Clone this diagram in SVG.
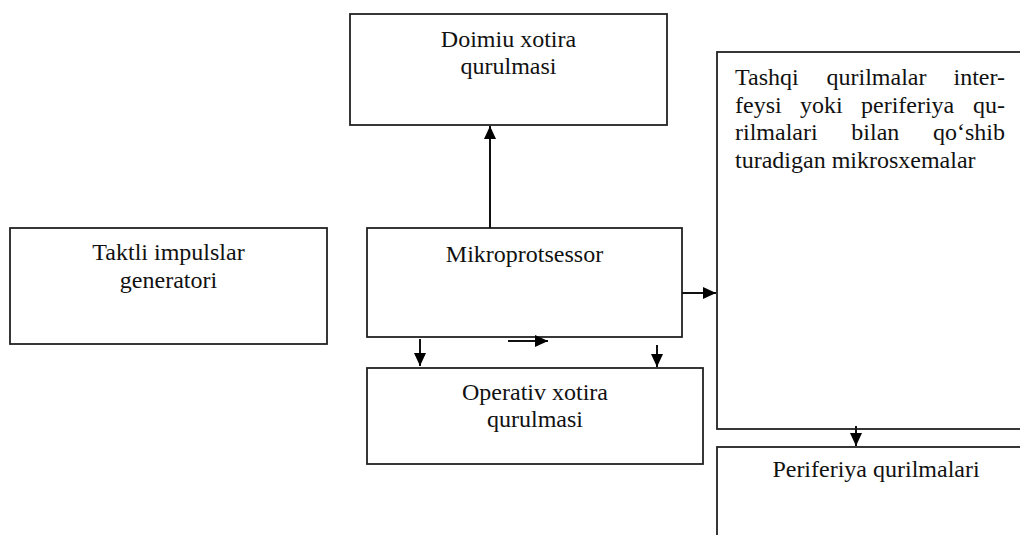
<svg xmlns="http://www.w3.org/2000/svg" width="1020" height="535" viewBox="0 0 1020 535">
<style>
.box{fill:#fff;stroke:#222;stroke-width:1.8}
.t{font-family:"Liberation Serif","Times New Roman",serif;font-size:24px;fill:#111}
.c{text-anchor:middle}
.e{text-anchor:end}
.ln{stroke:#111;stroke-width:2;fill:none;marker-end:url(#ah)}
</style>
<defs>
<marker id="ah" markerUnits="userSpaceOnUse" markerWidth="14" markerHeight="12" refX="13" refY="6" orient="auto">
<path d="M0,0 L13,6 L0,12 Z" fill="#000"/>
</marker>
</defs>
<rect width="1020" height="535" fill="#fff"/>
<g id="doimiu">
<rect class="box" x="350" y="14" width="317" height="111"/>
<text class="t c" x="508.5" y="47">Doimiu xotira</text>
<text class="t c" x="508.5" y="74">qurulmasi</text>
</g>
<g id="tashqi">
<rect class="box" x="717" y="52" width="320" height="377"/>
<text class="t" x="735" y="85">Tashqi</text>
<text class="t" x="826.5" y="85">qurilmalar</text>
<text class="t e" x="1005" y="85">inter-</text>
<text class="t" x="735" y="112.7">feysi</text>
<text class="t" x="800" y="112.7">yoki</text>
<text class="t" x="861" y="112.7">periferiya</text>
<text class="t e" x="1005" y="112.7">qu-</text>
<text class="t" x="735" y="140.4">rilmalari</text>
<text class="t" x="851.3" y="140.4">bilan</text>
<text class="t e" x="1005" y="140.4">qo‘shib</text>
<text class="t" x="735" y="168">turadigan mikrosxemalar</text>
</g>
<g id="taktli">
<rect class="box" x="10" y="228" width="317" height="116"/>
<text class="t c" x="168.5" y="260">Taktli impulslar</text>
<text class="t c" x="168.5" y="288">generatori</text>
</g>
<g id="mikro">
<rect class="box" x="367" y="228" width="315" height="109"/>
<text class="t c" x="524.5" y="262">Mikroprotsessor</text>
</g>
<g id="operativ">
<rect class="box" x="367" y="368" width="336" height="96"/>
<text class="t c" x="535" y="400">Operativ xotira</text>
<text class="t c" x="535" y="427">qurulmasi</text>
</g>
<g id="periferiya">
<rect class="box" x="717" y="447" width="320" height="100"/>
<text class="t c" x="876" y="477">Periferiya qurilmalari</text>
</g>
<g id="connectors">
<line class="ln" x1="490" y1="228" x2="490" y2="126"/>
<line class="ln" x1="682" y1="293" x2="716" y2="293"/>
<line class="ln" x1="420" y1="339" x2="420" y2="366"/>
<line class="ln" x1="657" y1="345" x2="657" y2="367"/>
<line class="ln" x1="508" y1="341" x2="548" y2="341"/>
<line class="ln" x1="856" y1="426" x2="856" y2="446"/>
</g>
</svg>
